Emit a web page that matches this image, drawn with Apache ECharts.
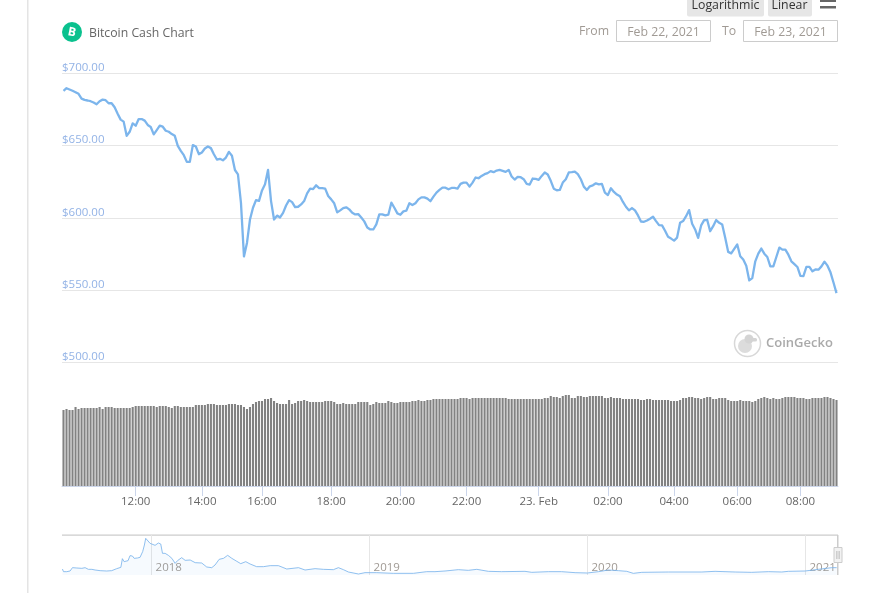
<!DOCTYPE html>
<html><head><meta charset="utf-8">
<style>html,body{margin:0;padding:0;background:#fff}#c{width:870px;height:593px}</style>
<script src="https://cdn.jsdelivr.net/npm/echarts@6/dist/echarts.min.js"></script>
</head><body><div id="c"></div>
<script>
const prices = [
687.7,689.5,688.6,687.7,686.7,685.6,682.3,681.4,681.0,680.5,679.6,678.4,680.5,681.6,681.2,679.1,679.1,676.3,671.9,667.8,666.4,656.6,659.4,665.2,663.6,668.2,668.2,667.1,664.1,662.7,657.6,660.6,663.6,662.9,660.1,659.4,657.8,656.6,649.7,646.2,643.2,638.6,638.6,650.2,649.2,643.9,645.1,647.8,649.2,648.1,643.9,640.2,640.7,639.7,641.6,645.5,642.8,633.0,630.0,610.3,573.3,582.6,598.8,606.9,612.2,611.7,618.9,623.1,633.0,611.5,598.8,601.5,600.2,603.4,608.5,612.2,610.8,607.3,607.6,609.2,611.5,616.8,620.1,619.8,622.4,620.5,
620.4,620.1,615.0,612.7,610.0,603.7,605.1,606.7,607.2,605.8,603.5,602.3,602.5,600.2,597.5,593.3,591.9,591.9,595.4,602.3,602.3,601.6,602.1,610.4,606.9,603.0,602.1,604.4,604.9,610.0,608.8,610.0,612.7,614.1,614.1,613.2,611.4,614.6,617.4,619.2,620.8,620.8,619.7,620.6,620.6,620.1,623.4,624.3,624.3,621.5,624.3,627.8,627.3,628.9,630.1,630.8,632.2,631.5,632.6,633.1,632.4,631.7,633.1,628.5,626.4,628.3,628.0,626.6,623.4,622.9,627.1,626.9,626.2,628.9,631.3,629.9,625.5,620.1,619.0,619.2,624.3,626.6,631.3,631.5,631.9,630.1,626.6,
621.5,619.2,621.7,622.4,623.8,623.1,623.4,617.4,615.7,620.4,617.8,616.0,614.8,610.9,607.6,605.1,606.7,605.1,601.6,597.4,597.2,598.1,599.3,600.7,597.7,594.9,594.7,591.0,586.8,585.6,584.2,586.3,596.5,597.7,601.1,605.3,595.8,591.9,586.1,594.7,598.4,598.6,590.7,594.2,598.4,596.5,595.4,586.1,576.4,575.4,578.5,581.5,573.4,571.1,566.9,556.7,558.3,569.9,575.2,578.7,575.2,572.9,566.4,566.4,572.9,579.4,578.0,578.0,574.5,569.9,568.0,566.0,559.9,559.7,566.0,566.0,563.0,564.3,564.1,566.4,569.7,566.9,562.3,555.3,547.9];
const volumes = [
76,77,76,76,79,77,78,78,78,78,78,78,79,77,79,79,79,78,78,78,78,78,78,79,80,80,80,80,80,80,80,79,80,80,80,79,78,80,80,79,79,79,79,79,81,81,81,81,82,82,82,81,81,81,81,82,82,82,81,81,79,77,79,82,84,85,85,87,87,88,85,83,82,82,82,
86,82,83,85,85,86,85,84,84,84,84,84,85,85,85,84,82,82,83,82,82,82,82,84,84,84,84,81,82,84,83,83,83,85,84,83,83,84,84,84,84,85,85,86,85,85,86,86,87,87,87,87,87,87,87,87,87,88,88,88,87,88,88,
88,88,88,88,88,88,88,88,88,88,87,87,87,87,87,87,87,87,87,87,87,87,88,88,90,89,89,88,90,91,91,88,88,90,90,89,89,90,90,90,90,90,88,88,89,88,88,88,87,87,87,87,87,87,86,86,87,87,86,86,86,
86,86,86,85,85,85,86,88,88,89,89,88,88,87,88,89,89,87,87,88,88,88,86,85,85,85,86,85,85,85,84,85,87,88,89,88,87,88,87,87,88,89,89,89,89,88,88,88,87,87,88,88,88,88,89,89,88,87,86];
const tickIndexes = [24,46,66,89,112,134,158,181,203,224,245];
const tickLabels = ["12:00","14:00","16:00","18:00","20:00","22:00","23. Feb","02:00","04:00","06:00","08:00"];
const priceTicks = [500,550,600,650,700];
const navYears = [2017.591,2017.596,2017.611,2017.626,2017.637,2017.657,2017.680,2017.695,2017.710,2017.726,2017.741,2017.764,2017.794,2017.817,2017.840,2017.859,2017.866,2017.874,2017.892,2017.901,2017.912,2017.920,2017.935,2017.947,2017.959,2017.967,2017.973,2017.982,2017.993,2018.001,2018.016,2018.031,2018.042,2018.050,2018.062,2018.077,2018.093,2018.108,2018.119,2018.138,2018.154,2018.177,2018.200,2018.230,2018.253,2018.276,2018.291,2018.310,2018.330,2018.349,2018.368,2018.391,2018.409,2018.432,2018.452,2018.482,2018.513,2018.544,2018.582,2018.620,2018.674,2018.704,2018.750,2018.788,2018.834,2018.857,2018.880,2018.903,2018.949,2018.979,2019.033,2019.109,2019.201,2019.262,2019.300,
2019.346,2019.407,2019.453,2019.492,2019.545,2019.606,2019.713,2019.744,2019.820,2019.881,2019.943,2019.999,2020.050,2020.096,2020.142,2020.180,2020.210,2020.249,2020.371,2020.524,2020.585,2020.677,2020.753,2020.830,2020.891,2020.921,2020.998,2021.059,2021.120,2021.143];
const navPrices = [600,333,333,400,733,700,667,733,567,567,500,433,400,433,633,767,1633,1333,1433,1933,1900,1667,1700,1767,2333,3000,3667,3567,3167,2967,2967,3200,3100,2167,2167,1967,1667,1167,1433,1733,1467,1500,1233,1200,800,733,1000,1567,1667,1967,1667,1367,1133,1333,1100,833,833,933,933,600,733,500,633,567,533,733,533,300,100,233,233,167,167,333,333,
400,533,467,567,367,333,367,267,333,333,233,200,333,500,433,367,167,267,300,300,367,300,267,333,300,367,400,567,733,733];
const navYearTicks = [2018,2019,2020,2021];

const FONT = '"Open Sans", sans-serif';
const cats = prices.map((_, i) => String(i));
const tickSet = new Set(tickIndexes);

const chart = echarts.init(document.getElementById('c'), null, {renderer:'canvas'});
chart.setOption({
  animation:false,
  backgroundColor:'#fff',
  textStyle:{fontFamily:FONT},
  grid:[
    {left:62,right:32,top:73,height:289.5,containLabel:false},
    {left:62,right:32,top:362.5,height:123.5,containLabel:false},
    {left:62,right:32,top:535,height:40,containLabel:false}
  ],
  xAxis:[
    {type:'category',gridIndex:0,data:cats,show:false,boundaryGap:true},
    {type:'category',gridIndex:1,data:cats,boundaryGap:true,
      axisLine:{show:true,lineStyle:{color:'#ccd6eb',width:1}},
      axisTick:{show:true,length:10,alignWithLabel:true,interval:(i)=>tickSet.has(i),lineStyle:{color:'#ccd6eb'}},
      axisLabel:{show:true,interval:(i)=>tickSet.has(i),formatter:(v,i)=>tickLabels[tickIndexes.indexOf(i)]||'',color:'#666',fontSize:11.5,fontFamily:FONT,margin:10,hideOverlap:false},
      splitLine:{show:false}},
    {type:'value',gridIndex:2,min:2017.589,max:2021.149,
      axisLine:{show:false},
      axisTick:{show:false,customValues:navYearTicks},
      axisLabel:{show:true,customValues:navYearTicks,inside:true,formatter:(v)=>String(Math.round(v)),align:'left',verticalAlign:'bottom',padding:[0,0,0,4],margin:1,color:'#a09a94',fontSize:11.5,fontFamily:FONT,showMinLabel:true,showMaxLabel:true},
      splitLine:{show:true,lineStyle:{color:'#e6e6e6',width:1}}}
  ],
  yAxis:[
    {type:'value',gridIndex:0,min:500,max:700,interval:50,
      axisLine:{show:false},axisTick:{show:false},
      axisLabel:{inside:true,margin:0,verticalAlign:'bottom',lineHeight:11,color:'#93b3e6',fontSize:11.5,fontFamily:FONT,formatter:(v)=>priceTicks.includes(v)?'$'+v.toFixed(2):''},
      splitLine:{show:true,lineStyle:{color:'#e6e6e6',width:1}}},
    {type:'value',gridIndex:1,min:0,max:123.5,show:false,splitLine:{show:false}},
    {type:'value',gridIndex:2,min:0,max:4000,show:false,splitLine:{show:false}}
  ],
  series:[
    {name:'Price',type:'line',xAxisIndex:0,yAxisIndex:0,data:prices,symbol:'none',silent:true,
      lineStyle:{color:'#7cb5ec',width:2.3,join:'round'}},
    {name:'Volume',type:'bar',xAxisIndex:1,yAxisIndex:1,data:volumes,barWidth:2.1,silent:true,
      itemStyle:{color:'#828282'}},
    {name:'History',type:'line',xAxisIndex:2,yAxisIndex:2,data:navYears.map((y,i)=>[y,navPrices[i]]),symbol:'none',silent:true,
      lineStyle:{color:'#7cb5ec',width:1,opacity:.85},
      areaStyle:{color:'#7cb5ec',opacity:.07}}
  ],
  graphic:[
    {type:'rect',silent:true,shape:{x:27,y:0,width:1.5,height:593},style:{fill:'#e4e4e4'}},
    {type:'circle',silent:true,shape:{cx:72,cy:32,r:10},style:{fill:'#0ac18e'}},
    {type:'text',silent:true,x:72,y:32.5,rotation:-0.2,style:{text:'B',fill:'#fff',font:'bold 12px '+FONT,textAlign:'center',textVerticalAlign:'middle'}},
    {type:'text',silent:true,x:89,y:33.5,style:{text:'Bitcoin Cash Chart',fill:'#666',font:'12.25px '+FONT,textVerticalAlign:'middle'}},
    {type:'rect',silent:true,shape:{x:687,y:-4,width:77,height:20.5,r:2},style:{fill:'#e6e6e6'}},
    {type:'rect',silent:true,shape:{x:768,y:-4,width:44,height:20.5,r:2},style:{fill:'#e6e6e6'}},
    {type:'text',silent:true,x:725.5,y:5,style:{text:'Logarithmic',fill:'#333',font:'12.3px '+FONT,textAlign:'center',textVerticalAlign:'middle'}},
    {type:'text',silent:true,x:789.5,y:5,style:{text:'Linear',fill:'#333',font:'12.3px '+FONT,textAlign:'center',textVerticalAlign:'middle'}},
    {type:'rect',silent:true,shape:{x:820,y:0,width:16,height:2},style:{fill:'#666'}},
    {type:'rect',silent:true,shape:{x:820,y:6,width:16,height:2.5},style:{fill:'#666'}},
    {type:'text',silent:true,x:579,y:31.5,style:{text:'From',fill:'#a09a94',font:'12.3px '+FONT,textVerticalAlign:'middle'}},
    {type:'rect',silent:true,shape:{x:616.5,y:20.5,width:94,height:21},style:{fill:'#fff',stroke:'#ccc',lineWidth:1}},
    {type:'text',silent:true,x:663.5,y:32,style:{text:'Feb 22, 2021',fill:'#a09a94',font:'12.3px '+FONT,textAlign:'center',textVerticalAlign:'middle'}},
    {type:'text',silent:true,x:722,y:31.5,style:{text:'To',fill:'#a09a94',font:'12.3px '+FONT,textVerticalAlign:'middle'}},
    {type:'rect',silent:true,shape:{x:743.5,y:20.5,width:94,height:21},style:{fill:'#fff',stroke:'#ccc',lineWidth:1}},
    {type:'text',silent:true,x:790.5,y:32,style:{text:'Feb 23, 2021',fill:'#a09a94',font:'12.3px '+FONT,textAlign:'center',textVerticalAlign:'middle'}},
    {type:'circle',silent:true,shape:{cx:747.5,cy:343.5,r:13},style:{fill:'#fff',stroke:'#d8d8d8',lineWidth:1.5}},
    {type:'circle',silent:true,shape:{cx:745,cy:346,r:7},style:{fill:'#dcdcdc'}},
    {type:'circle',silent:true,shape:{cx:749,cy:339,r:4.5},style:{fill:'#d4d4d4'}},
    {type:'rect',silent:true,shape:{x:751,y:338,width:6,height:3.5,r:1.5},style:{fill:'#d4d4d4'}},
    {type:'text',silent:true,x:766,y:343.5,style:{text:'CoinGecko',fill:'#aaa',font:'600 13px '+FONT,textVerticalAlign:'middle'}},
    {type:'rect',silent:true,shape:{x:62,y:534.5,width:776,height:1.2},style:{fill:'#ccc'}},
    {type:'rect',silent:true,shape:{x:837,y:535,width:1.5,height:40},style:{fill:'#ccc'}},
    {type:'rect',silent:true,shape:{x:834,y:547.5,width:8,height:15},style:{fill:'#f2f2f2',stroke:'#ccc',lineWidth:1}},
    {type:'rect',silent:true,shape:{x:836.5,y:551,width:0.8,height:8},style:{fill:'#aaa'}},
    {type:'rect',silent:true,shape:{x:838.7,y:551,width:0.8,height:8},style:{fill:'#aaa'}}
  ]
});
</script></body></html>
